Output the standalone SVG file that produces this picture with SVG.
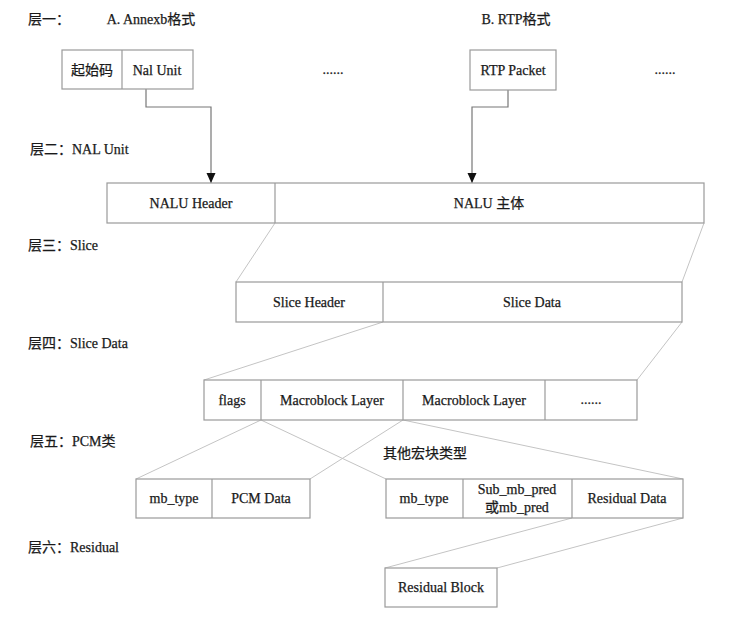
<svg xmlns="http://www.w3.org/2000/svg" width="733" height="621" viewBox="0 0 733 621">
<defs>
<style>
.t{font-family:"Liberation Serif","Noto Sans CJK SC",serif;font-size:14px;fill:#1a1a1a;stroke:#1a1a1a;stroke-width:0.25;text-anchor:middle;dominant-baseline:central}
.l{font-family:"Liberation Serif","Noto Sans CJK SC",serif;font-size:14px;fill:#1a1a1a;stroke:#1a1a1a;stroke-width:0.25;dominant-baseline:central}
.b{fill:#fff;stroke:#9a9a9a;stroke-width:1.2}
.d{stroke:#9a9a9a;stroke-width:1.2}
.c{fill:none;stroke:#c4c4c4;stroke-width:1}
.a{fill:none;stroke:#777;stroke-width:1.2}
</style>
<marker id="arr" markerWidth="10" markerHeight="10" refX="10" refY="5" orient="auto" markerUnits="userSpaceOnUse" viewBox="0 0 10 10">
<path d="M0,0.5 L10,5 L0,9.5 Z" fill="#111"/>
</marker>
</defs>
<rect width="733" height="621" fill="#fff"/>

<g id="labels">
<text class="l" x="28" y="19">层一：</text>
<text class="t" x="151" y="19">A. Annexb格式</text>
<text class="t" x="516" y="19">B. RTP格式</text>
<text class="l" x="30" y="149">层二：NAL Unit</text>
<text class="l" x="28" y="245">层三：Slice</text>
<text class="l" x="28" y="343">层四：Slice Data</text>
<text class="l" x="30" y="441">层五：PCM类</text>
<text class="l" x="28" y="547">层六：Residual</text>
<text class="t" x="425" y="453">其他宏块类型</text>
<text class="t" x="333" y="69">......</text>
<text class="t" x="665" y="69">......</text>
</g>

<g id="connectors">
<polyline class="a" points="146,89 146,107 211,107 211,183" marker-end="url(#arr)"/>
<polyline class="a" points="508,90 508,107 472,107 472,183" marker-end="url(#arr)"/>
<line class="c" x1="275" y1="223" x2="236" y2="282"/>
<line class="c" x1="704" y1="223" x2="682" y2="282"/>
<line class="c" x1="383" y1="322" x2="204" y2="380"/>
<line class="c" x1="682" y1="322" x2="637" y2="380"/>
<line class="c" x1="261" y1="420" x2="136" y2="479"/>
<line class="c" x1="403" y1="420" x2="310" y2="479"/>
<line class="c" x1="261" y1="420" x2="386" y2="479"/>
<line class="c" x1="403" y1="420" x2="683" y2="479"/>
<line class="c" x1="572" y1="518" x2="385" y2="568"/>
<line class="c" x1="683" y1="518" x2="497" y2="568"/>
</g>

<g id="annexb">
<rect class="b" x="62" y="50" width="131" height="39"/>
<line class="d" x1="122" y1="50" x2="122" y2="89"/>
<text class="t" x="92" y="70">起始码</text>
<text class="t" x="157" y="70">Nal Unit</text>
</g>

<g id="rtp">
<rect class="b" x="470" y="50" width="86" height="40"/>
<text class="t" x="513" y="70">RTP Packet</text>
</g>

<g id="nalu">
<rect class="b" x="107" y="183" width="597" height="40"/>
<line class="d" x1="275" y1="183" x2="275" y2="223"/>
<text class="t" x="191" y="203">NALU Header</text>
<text class="t" x="489" y="203">NALU 主体</text>
</g>

<g id="slice">
<rect class="b" x="236" y="282" width="446" height="40"/>
<line class="d" x1="383" y1="282" x2="383" y2="322"/>
<text class="t" x="309" y="302">Slice Header</text>
<text class="t" x="532" y="302">Slice Data</text>
</g>

<g id="slicedata">
<rect class="b" x="204" y="380" width="433" height="40"/>
<line class="d" x1="261" y1="380" x2="261" y2="420"/>
<line class="d" x1="403" y1="380" x2="403" y2="420"/>
<line class="d" x1="545" y1="380" x2="545" y2="420"/>
<text class="t" x="232" y="400">flags</text>
<text class="t" x="332" y="400">Macroblock Layer</text>
<text class="t" x="474" y="400">Macroblock Layer</text>
<text class="t" x="591" y="399">......</text>
</g>

<g id="pcm">
<rect class="b" x="136" y="479" width="174" height="39"/>
<line class="d" x1="212" y1="479" x2="212" y2="518"/>
<text class="t" x="174" y="498">mb_type</text>
<text class="t" x="261" y="498">PCM Data</text>
</g>

<g id="other">
<rect class="b" x="386" y="479" width="297" height="39"/>
<line class="d" x1="463" y1="479" x2="463" y2="518"/>
<line class="d" x1="572" y1="479" x2="572" y2="518"/>
<text class="t" x="424" y="498">mb_type</text>
<text class="t" x="517" y="489">Sub_mb_pred</text>
<text class="t" x="517" y="507">或mb_pred</text>
<text class="t" x="627" y="498">Residual Data</text>
</g>

<g id="residual">
<rect class="b" x="385" y="568" width="112" height="39"/>
<text class="t" x="441" y="587">Residual Block</text>
</g>
</svg>
